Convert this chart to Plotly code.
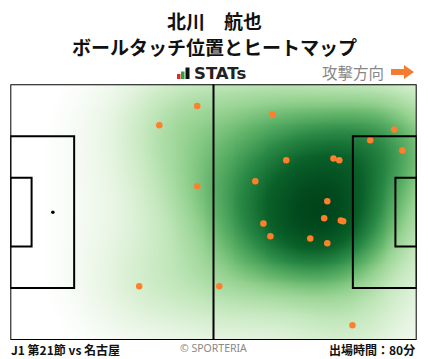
import numpy as np
import plotly.graph_objects as go

# Pitch dimensions (metres)
PITCH_L = 105.0
PITCH_W = 68.0

# Ball touch positions (x along attacking direction, y from bottom touchline)
touch_x = [48.3, 38.5, 48.3, 33.3, 54.0, 67.7, 99.2, 93.0, 101.3, 71.3, 83.5,
           85.0, 63.3, 81.9, 81.1, 85.4, 86.0, 65.4, 67.2, 77.5, 81.9, 88.4]
touch_y = [62.2, 57.1, 40.9, 14.3, 14.3, 60.0, 56.0, 53.1, 50.4, 47.8, 48.3,
           47.8, 42.2, 36.9, 32.4, 31.8, 31.6, 31.0, 27.6, 27.0, 25.7, 3.9]

title_name = "北川　航也"
title_sub = "ボールタッチ位置とヒートマップ"
footer_left = "J1 第21節 vs 名古屋"
footer_mid = "© SPORTERIA"
footer_right = "出場時間：80分"
direction_label = "攻撃方向"

# Kernel density estimate of the touches for the heat map
px_ = np.array(touch_x)
py_ = np.array(touch_y)
gx = np.linspace(0, PITCH_L, 211)
gy = np.linspace(0, PITCH_W, 137)
GX, GY = np.meshgrid(gx, gy)

def kde(bx, by):
    k = np.zeros_like(GX)
    for a, b in zip(px_, py_):
        k += np.exp(-0.5 * (((GX - a) / bx) ** 2 + ((GY - b) / by) ** 2))
    return k / k.max()

Z = 0.6 * kde(11.0, 10.0) + 0.4 * kde(25.0, 21.0)
Z = Z / Z.max()

greens = [
    [0.0, "rgba(255,255,255,1)"],
    [0.05, "#f4faf2"],
    [0.13, "#e3f3de"],
    [0.24, "#c4e8bd"],
    [0.37, "#97d392"],
    [0.5, "#5cb066"],
    [0.64, "#2a8946"],
    [0.8, "#0a6129"],
    [1.0, "#00441b"],
]

fig = go.Figure()
fig.add_trace(go.Heatmap(x=gx, y=gy, z=Z, colorscale=greens, zmin=0.04, zmax=1,
                         zsmooth="best", showscale=False, hoverinfo="skip"))
fig.add_trace(go.Scatter(x=touch_x, y=touch_y, mode="markers",
                         marker=dict(color="#ff7f2a", size=6.5, line=dict(width=0)),
                         hoverinfo="skip"))
# penalty spot
fig.add_trace(go.Scatter(x=[11], y=[PITCH_W / 2], mode="markers",
                         marker=dict(color="black", size=3.5), hoverinfo="skip"))

LW = 2
line = dict(color="black", width=LW)
shapes = []
def rect(x0, y0, x1, y1):
    shapes.append(dict(type="rect", xref="x", yref="y", x0=x0, y0=y0, x1=x1, y1=y1,
                       line=line, layer="above"))
rect(0, 0, PITCH_L, PITCH_W)
pb_h = 40.32
ga_h = 18.32
rect(0, (PITCH_W - pb_h) / 2, 16.5, (PITCH_W + pb_h) / 2)
rect(0, (PITCH_W - ga_h) / 2, 5.5, (PITCH_W + ga_h) / 2)
rect(PITCH_L - 16.5, (PITCH_W - pb_h) / 2, PITCH_L, (PITCH_W + pb_h) / 2)
rect(PITCH_L - 5.5, (PITCH_W - ga_h) / 2, PITCH_L, (PITCH_W + ga_h) / 2)
shapes.append(dict(type="line", xref="x", yref="y", x0=PITCH_L / 2, x1=PITCH_L / 2,
                   y0=0, y1=PITCH_W, line=line, layer="above"))

W, H = 428, 359
def px(x):
    return x / W
def py(y):
    return 1 - y / H

# STATs logo bars
for (x0, x1, ytop, col) in [(177, 180.5, 74, "#e5262b"), (181, 184.5, 71.5, "#2aa43c"),
                            (185.5, 189.5, 67.5, "#111111")]:
    shapes.append(dict(type="rect", xref="paper", yref="paper", x0=px(x0), x1=px(x1),
                       y0=py(79), y1=py(ytop), fillcolor=col, line=dict(width=0)))
# attack direction arrow
ax0, ax1, ay = 391, 414, 72
path = (f"M {px(ax0)} {py(ay-3)} L {px(404)} {py(ay-3)} L {px(404)} {py(ay-7)} "
        f"L {px(ax1)} {py(ay)} L {px(404)} {py(ay+7)} L {px(404)} {py(ay+3)} "
        f"L {px(ax0)} {py(ay+3)} Z")
shapes.append(dict(type="path", xref="paper", yref="paper", path=path,
                   fillcolor="#f47c30", line=dict(width=0)))

jp = "Noto Sans CJK JP"
ann = []
ann.append(dict(text=f"<b>{title_name}</b>", x=0.5, y=py(20), xref="paper", yref="paper",
                showarrow=False, font=dict(family=jp, size=19, color="#111"), yanchor="middle"))
ann.append(dict(text=f"<b>{title_sub}</b>", x=0.5, y=py(46.5), xref="paper", yref="paper",
                showarrow=False, font=dict(family=jp, size=19, color="#111"), yanchor="middle"))
ann.append(dict(text="<b>STATs</b>", x=px(192), y=py(73.5), xref="paper", yref="paper",
                xanchor="left", yanchor="middle", showarrow=False,
                font=dict(family="DejaVu Sans", size=16.5, color="#222")))
ann.append(dict(text=direction_label, x=px(386), y=py(72), xref="paper", yref="paper",
                xanchor="right", yanchor="middle", showarrow=False,
                font=dict(family=jp, size=15.5, color="#888")))
ann.append(dict(text=f"<b>{footer_left}</b>", x=px(9), y=py(349), xref="paper", yref="paper",
                xanchor="left", yanchor="middle", showarrow=False,
                font=dict(family=jp, size=12, color="#111")))
ann.append(dict(text=footer_mid, x=px(213), y=py(348), xref="paper", yref="paper",
                xanchor="center", yanchor="middle", showarrow=False,
                font=dict(family="Noto Sans", size=10.5, color="#888")))
ann.append(dict(text=f"<b>{footer_right}</b>", x=px(417), y=py(349), xref="paper", yref="paper",
                xanchor="right", yanchor="middle", showarrow=False,
                font=dict(family=jp, size=12, color="#111")))

fig.update_layout(
    width=W, height=H, margin=dict(l=0, r=0, t=0, b=0),
    paper_bgcolor="white", plot_bgcolor="white", showlegend=False,
    xaxis=dict(range=[0, PITCH_L], domain=[px(10.3), px(416.7)], visible=False, fixedrange=True),
    yaxis=dict(range=[0, PITCH_W], domain=[py(340), py(84.3)], visible=False, fixedrange=True),
    shapes=shapes, annotations=ann,
)
fig.write_html("out.html")
